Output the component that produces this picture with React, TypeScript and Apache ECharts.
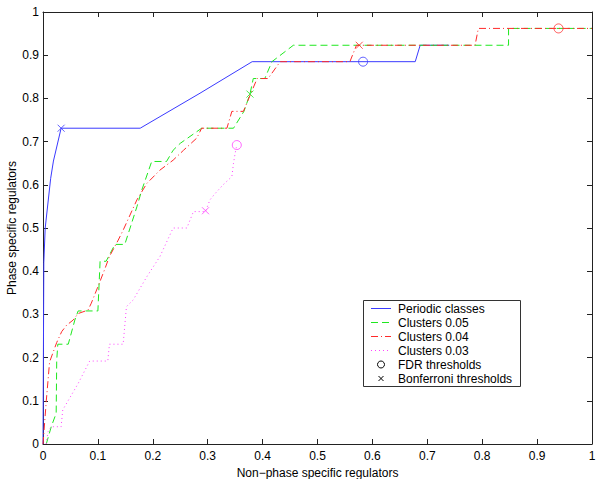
import React, { useEffect, useRef } from "react";
import * as echarts from "echarts";

// ---- data ----
const tickValues = [0, 0.1, 0.2, 0.3, 0.4, 0.5, 0.6, 0.7, 0.8, 0.9, 1];

const periodicX = [0, 0.0015, 0.004, 0.014, 0.019, 0.033, 0.177, 0.286, 0.381, 0.678, 0.687, 0.74];
const periodicY = [0, 0.42, 0.5, 0.615, 0.655, 0.731, 0.731, 0.812, 0.885, 0.885, 0.923, 0.923];

const c05X = [0.006, 0.015, 0.024, 0.025, 0.027, 0.046, 0.058, 0.064, 0.1, 0.104, 0.115, 0.131, 0.149, 0.171, 0.18, 0.198, 0.225, 0.237, 0.25, 0.289, 0.347, 0.366, 0.377, 0.383, 0.404, 0.417, 0.456, 0.848, 0.848, 1.0];
const c05Y = [0, 0.04, 0.071, 0.194, 0.231, 0.231, 0.287, 0.308, 0.308, 0.423, 0.423, 0.462, 0.462, 0.549, 0.588, 0.654, 0.654, 0.68, 0.696, 0.731, 0.731, 0.77, 0.81, 0.846, 0.846, 0.885, 0.923, 0.923, 0.962, 0.962];

const c04X = [0, 0.006, 0.012, 0.025, 0.034, 0.043, 0.055, 0.064, 0.082, 0.088, 0.1, 0.112, 0.121, 0.137, 0.146, 0.171, 0.189, 0.213, 0.237, 0.256, 0.28, 0.289, 0.335, 0.344, 0.365, 0.39, 0.398, 0.41, 0.432, 0.559, 0.571, 0.787, 0.793, 1.0];
const c04Y = [0, 0.1, 0.19, 0.235, 0.26, 0.275, 0.287, 0.302, 0.31, 0.326, 0.364, 0.403, 0.434, 0.472, 0.495, 0.565, 0.603, 0.634, 0.657, 0.68, 0.708, 0.731, 0.731, 0.77, 0.77, 0.846, 0.846, 0.846, 0.885, 0.885, 0.923, 0.923, 0.962, 0.962];

const c03X = [0.006, 0.009, 0.015, 0.033, 0.036, 0.064, 0.085, 0.118, 0.121, 0.146, 0.152, 0.164, 0.189, 0.213, 0.237, 0.262, 0.274, 0.296, 0.304, 0.313, 0.328, 0.344, 0.347, 0.35, 0.353];
const c03Y = [0, 0.028, 0.04, 0.04, 0.079, 0.14, 0.192, 0.192, 0.231, 0.231, 0.318, 0.333, 0.387, 0.434, 0.5, 0.5, 0.538, 0.538, 0.565, 0.579, 0.6, 0.619, 0.65, 0.673, 0.692];

// threshold markers [x, y]
const periodicFdr = [0.583, 0.885];
const periodicBonf = [0.033, 0.731];
const c05Bonf = [0.377, 0.81];
const c04Fdr = [0.939, 0.962];
const c04Bonf = [0.576, 0.923];
const c03Fdr = [0.353, 0.692];
const c03Bonf = [0.296, 0.54];

const xTitle = "Non\u2212phase specific regulators";
const yTitle = "Phase specific regulators";
const legendNames = [
  "Periodic classes",
  "Clusters 0.05",
  "Clusters 0.04",
  "Clusters 0.03",
  "FDR thresholds",
  "Bonferroni thresholds",
];

const BLUE = "#3a3aff";
const GREEN = "#1fe81f";
const RED = "#ff2a2a";
const PINK = "#ff44ff";
const DASH = [7, 4];
const DASHDOT = [7, 3, 1, 3];
const DOT = [1, 3];
const FONT = "Liberation Sans, Arial, Helvetica, sans-serif";
const XPATH = "path://M0,0L10,10M10,0L0,10";

const zip = (xs: number[], ys: number[]) => xs.map((x, i) => [x, ys[i]]);

function lineSeries(name: string, xs: number[], ys: number[], color: string, type: any) {
  return {
    name,
    type: "line",
    data: zip(xs, ys),
    symbol: "none",
    showSymbol: false,
    lineStyle: { color, width: 1, type },
    itemStyle: { color },
    silent: true,
  };
}

function markerSeries(pts: number[][], kind: "fdr" | "bonf", color: string) {
  return {
    type: "scatter",
    data: pts,
    symbol: kind === "fdr" ? "circle" : XPATH,
    symbolSize: kind === "fdr" ? 9 : 7,
    itemStyle: { color: "rgba(0,0,0,0)", borderColor: color, borderWidth: 1 },
    silent: true,
    z: 5,
  };
}

function axisBase(extra: any) {
  return {
    type: "value",
    min: 0,
    max: 1,
    interval: 0.1,
    splitLine: { show: false },
    axisLine: { show: true, onZero: false, lineStyle: { color: "#222", width: 1 } },
    axisTick: { show: true, inside: true, length: 5, lineStyle: { color: "#222" } },
    ...extra,
  };
}

export default function App() {
  const ref = useRef<HTMLDivElement>(null);
  useEffect(() => {
    if (!ref.current) return;
    const chart = echarts.init(ref.current, undefined, { renderer: "svg" });

    const lx = 363.5, ly = 300.5, lw = 157, lh = 86;
    const rowY = [308.5, 322.5, 336.5, 350.5, 364.5, 378.5];
    const lineStyles = [
      { stroke: BLUE, lineDash: null },
      { stroke: GREEN, lineDash: DASH },
      { stroke: RED, lineDash: DASHDOT },
      { stroke: PINK, lineDash: DOT },
    ];
    const graphicEls: any[] = [
      {
        type: "text",
        x: 12,
        y: 228,
        rotation: Math.PI / 2,
        style: { text: yTitle, fill: "#000", font: `12px ${FONT}`, textAlign: "center", textVerticalAlign: "middle" },
      },
      { type: "rect", shape: { x: lx, y: ly, width: lw, height: lh }, style: { fill: "#fff", stroke: "#333", lineWidth: 1 }, z: 10 },
    ];
    legendNames.forEach((n, i) => {
      graphicEls.push({
        type: "text",
        x: 398,
        y: rowY[i],
        style: { text: n, fill: "#000", font: `12px ${FONT}`, textVerticalAlign: "middle", textAlign: "left" },
        z: 11,
      });
      if (i < 4) {
        graphicEls.push({
          type: "line",
          shape: { x1: 371, y1: rowY[i], x2: 391, y2: rowY[i] },
          style: { stroke: lineStyles[i].stroke, lineWidth: 1, lineDash: lineStyles[i].lineDash },
          z: 11,
        });
      }
    });
    graphicEls.push({ type: "circle", shape: { cx: 381, cy: rowY[4], r: 3.5 }, style: { fill: "none", stroke: "#000", lineWidth: 1 }, z: 11 });
    graphicEls.push({ type: "line", shape: { x1: 378.5, y1: rowY[5] - 2.5, x2: 383.5, y2: rowY[5] + 2.5 }, style: { stroke: "#000", lineWidth: 1 }, z: 11 });
    graphicEls.push({ type: "line", shape: { x1: 383.5, y1: rowY[5] - 2.5, x2: 378.5, y2: rowY[5] + 2.5 }, style: { stroke: "#000", lineWidth: 1 }, z: 11 });

    chart.setOption({
      animation: false,
      backgroundColor: "#fff",
      grid: { left: 43, right: 8, top: 12, bottom: 35, containLabel: false, outerBoundsMode: "none" },
      xAxis: [
        axisBase({
          position: "bottom",
          name: xTitle,
          nameLocation: "middle",
          nameGap: 19,
          nameTextStyle: { fontFamily: FONT, fontSize: 12, color: "#000" },
          axisLabel: {
            fontFamily: FONT, fontSize: 12, color: "#000", margin: 6,
            formatter: (v: number) => String(tickValues.find((t) => Math.abs(t - v) < 1e-6) ?? v),
          },
        }),
        axisBase({ position: "top", axisLabel: { show: false } }),
      ],
      yAxis: [
        axisBase({
          position: "left",
          axisLabel: {
            fontFamily: FONT, fontSize: 12, color: "#000", margin: 4,
            formatter: (v: number) => String(tickValues.find((t) => Math.abs(t - v) < 1e-6) ?? v),
          },
        }),
        axisBase({ position: "right", axisLabel: { show: false } }),
      ],
      series: [
        lineSeries("Periodic classes", periodicX, periodicY, BLUE, "solid"),
        lineSeries("Clusters 0.05", c05X, c05Y, GREEN, DASH),
        lineSeries("Clusters 0.04", c04X, c04Y, RED, DASHDOT),
        lineSeries("Clusters 0.03", c03X, c03Y, PINK, DOT),
        markerSeries([periodicFdr], "fdr", BLUE),
        markerSeries([periodicBonf], "bonf", BLUE),
        markerSeries([c05Bonf], "bonf", GREEN),
        markerSeries([c04Fdr], "fdr", RED),
        markerSeries([c04Bonf], "bonf", RED),
        markerSeries([c03Fdr], "fdr", PINK),
        markerSeries([c03Bonf], "bonf", PINK),
      ],
      graphic: graphicEls,
    });
    return () => chart.dispose();
  }, []);
  return (
    <div
      ref={ref}
      style={{ position: "fixed", left: 0, top: 0, width: 600, height: 479, background: "#fff" }}
    />
  );
}
